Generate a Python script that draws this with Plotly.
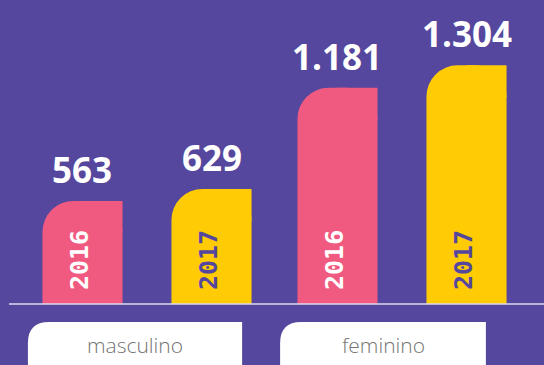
import plotly.graph_objects as go

# Data
categories = ["masculino", "feminino"]
years = ["2016", "2017"]
values_2016 = [563, 1181]
values_2017 = [629, 1304]

BG = "#55479D"
PINK = "#F15A80"
YELLOW = "#FFCB05"
series = [
    (years[0], values_2016, PINK, "white"),
    (years[1], values_2017, YELLOW, BG),
]

W, H = 544, 365
X_RANGE = [-0.5765, 1.5569]
Y_RANGE = [-333, 1661]
px_x = W / (X_RANGE[1] - X_RANGE[0])   # pixels per category unit
px_y = H / (Y_RANGE[1] - Y_RANGE[0])   # pixels per value unit

BAR_W = 0.314
OFFSETS = [-0.41, 0.096]
R_BAR = 31  # px, rounded top-left corner

fmt = lambda v: f"{v:,}".replace(",", ".")

fig = go.Figure()
shapes = []
annotations = []

for (yr, vals, color, year_col), off in zip(series, OFFSETS):
    fig.add_trace(go.Bar(
        x=categories, y=vals, name=yr,
        width=BAR_W, offset=off,
        marker=dict(color=color, line=dict(width=0), cornerradius=R_BAR),
        hoverinfo="skip",
    ))
    for i, v in enumerate(vals):
        left = i + off
        right = left + BAR_W
        cx = left + BAR_W / 2
        # square off the top-right corner (sits behind the bar)
        shapes.append(dict(
            type="rect", xref="x", yref="y", layer="below",
            x0=cx, x1=right, y0=v - R_BAR / px_y - 5, y1=v,
            fillcolor=color, line=dict(width=0),
        ))
        # value above the bar
        annotations.append(dict(
            x=cx, y=v, xref="x", yref="y", text=fmt(v),
            showarrow=False, yanchor="bottom", yshift=6,
            font=dict(family="Open Sans", size=35, color="white", weight="bold"),
        ))
        # year inside the bar
        annotations.append(dict(
            x=cx - 3.5 / px_x, y=0, xref="x", yref="y", text=yr,
            showarrow=False, yanchor="bottom", yshift=12, textangle=-90,
            font=dict(family="DejaVu Sans Mono", size=25, color=year_col, weight="bold"),
        ))

# baseline
shapes.append(dict(
    type="line", xref="paper", yref="y", x0=9 / W, x1=1, y0=0, y1=0,
    line=dict(color="#DCD8EF", width=1.5), layer="above",
))

# category label tabs with a rounded top-left corner
tab_extents = [(-0.467, 0.373), (-0.478, 0.329)]
tab_top = -18 / px_y
tab_bot = Y_RANGE[0] - 50
r_tab = 21
rx, ry = r_tab / px_x, r_tab / px_y
for i, (name, (a, b)) in enumerate(zip(categories, tab_extents)):
    x0, x1 = i + a, i + b
    path = (f"M {x0},{tab_bot} L {x0},{tab_top - ry} "
            f"Q {x0},{tab_top} {x0 + rx},{tab_top} "
            f"L {x1},{tab_top} L {x1},{tab_bot} Z")
    shapes.append(dict(type="path", xref="x", yref="y", path=path,
                       fillcolor="white", line=dict(width=0), layer="above"))
    annotations.append(dict(
        x=(x0 + x1) / 2, y=-41 / px_y, xref="x", yref="y", text=name,
        showarrow=False, yanchor="middle",
        font=dict(family="Open Sans", size=21, color="#747474", weight=300),
    ))

fig.update_layout(
    width=W, height=H,
    margin=dict(l=0, r=0, t=0, b=0),
    paper_bgcolor=BG, plot_bgcolor=BG,
    showlegend=False,
    barmode="overlay",
    shapes=shapes, annotations=annotations,
    xaxis=dict(range=X_RANGE, visible=False, fixedrange=True),
    yaxis=dict(range=Y_RANGE, visible=False, fixedrange=True),
)

fig.write_html("out.html", config={"displayModeBar": False})
